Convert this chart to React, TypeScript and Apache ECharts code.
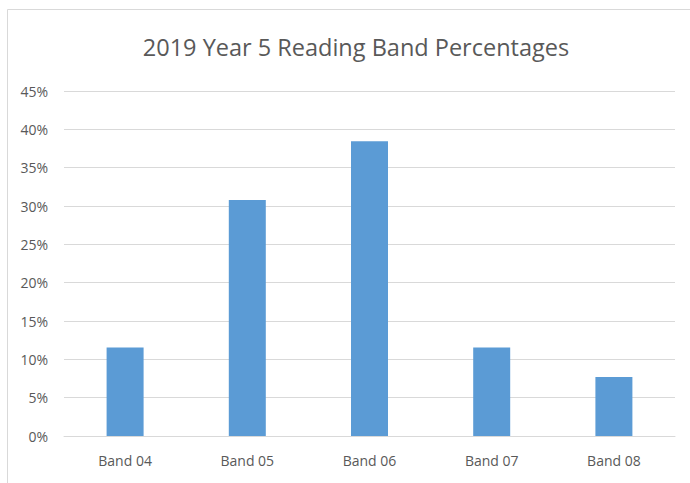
import React, { useEffect, useRef } from "react";
import * as echarts from "echarts";

const title = "2019 Year 5 Reading Band Percentages";
const categories = ["Band 04", "Band 05", "Band 06", "Band 07", "Band 08"];
const percentages = [11.54, 30.77, 38.46, 11.54, 7.69];
const yMin = 0;
const yMax = 45;
const yStep = 5;

export default function App() {
  const ref = useRef<HTMLDivElement>(null);

  useEffect(() => {
    if (!ref.current) return;
    const chart = echarts.init(ref.current, undefined, { renderer: "svg" });
    chart.setOption({
      animation: false,
      backgroundColor: "#ffffff",
      title: {
        text: title,
        left: 351,
        textAlign: "center",
        top: 30,
        textStyle: {
          fontFamily: "Open Sans",
          fontSize: 23.5,
          fontWeight: "normal",
          color: "#595959",
        },
      },
      graphic: [
        {
          type: "rect",
          shape: { x: 7.5, y: 9.5, width: 720, height: 520 },
          style: { fill: "none", stroke: "#d9d9d9", lineWidth: 1 },
          silent: true,
        },
      ],
      grid: { left: 64, right: 15, top: 91, bottom: 47, containLabel: false },
      xAxis: {
        type: "category",
        data: categories,
        axisLine: { lineStyle: { color: "#d9d9d9", width: 1 } },
        axisTick: { show: false },
        axisLabel: {
          color: "#595959",
          fontFamily: "Open Sans",
          fontSize: 14,
          margin: 17,
        },
      },
      yAxis: {
        type: "value",
        min: yMin,
        max: yMax,
        interval: yStep,
        axisLine: { show: false },
        axisTick: { show: false },
        splitLine: { lineStyle: { color: "#d9d9d9", width: 1 } },
        axisLabel: {
          color: "#595959",
          fontFamily: "Open Sans",
          fontSize: 14,
          margin: 16,
          formatter: (v: number) => `${v}%`,
        },
      },
      series: [
        {
          type: "bar",
          data: percentages,
          barWidth: 37,
          itemStyle: { color: "#5b9bd5" },
        },
      ],
    });
    return () => chart.dispose();
  }, []);

  return (
    <div
      ref={ref}
      style={{ position: "absolute", left: 0, top: 0, width: 690, height: 483 }}
    />
  );
}
